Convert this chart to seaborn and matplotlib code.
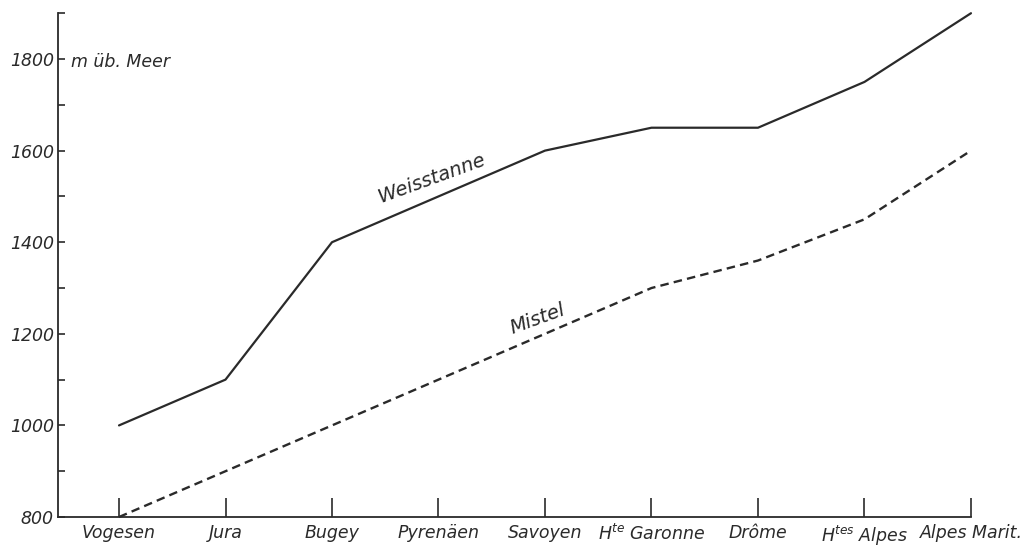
import numpy as np
import pandas as pd
import seaborn as sns
import matplotlib.pyplot as plt
from matplotlib.ticker import MultipleLocator

# data (metres above sea level)
regions = ['Vogesen', 'Jura', 'Bugey', 'Pyrenäen', 'Savoyen',
           r'H$^{te}$ Garonne', 'Drôme', r'H$^{tes}$ Alpes', 'Alpes Marit.']
weisstanne = [1000, 1100, 1400, 1500, 1600, 1650, 1650, 1750, 1900]
mistel = [800, 900, 1000, 1100, 1200, 1300, 1360, 1450, 1600]

sns.set_style('ticks')
plt.rcParams['font.family'] = ['DejaVu Sans']
plt.rcParams['font.style'] = 'italic'
plt.rcParams['mathtext.default'] = 'it'
plt.rcParams['mathtext.fontset'] = 'dejavusans'

df = pd.DataFrame({'pos': np.arange(len(regions)),
                   'Weisstanne': weisstanne,
                   'Mistel': mistel})

fig = plt.figure(figsize=(10.3, 5.51), dpi=100)
ax = fig.add_axes([0.0563, 0.0617, 0.8864, 0.9143])

ink = '#2a2a2a'
sns.lineplot(data=df, x='pos', y='Weisstanne', ax=ax, color=ink, lw=1.6,
             clip_on=False)
sns.lineplot(data=df, x='pos', y='Mistel', ax=ax, color=ink, lw=1.7,
             linestyle=(0, (3.6, 2.2)), clip_on=False)

ax.set_xlim(-0.573, len(regions) - 1)
ax.set_ylim(800, 1900)
ax.set_xticks(df['pos'])
ax.set_xticklabels(regions, fontsize=12.5, style='italic')
ax.yaxis.set_major_locator(MultipleLocator(200))
ax.yaxis.set_minor_locator(MultipleLocator(100))
ax.set_yticks(np.arange(800, 1801, 200))
ax.set_yticklabels([str(v) for v in range(800, 1801, 200)], fontsize=12.5,
                   style='italic')
ax.set_xlabel('')
ax.set_ylabel('')

ax.tick_params(axis='x', direction='in', length=14, width=1.2, pad=5,
               colors=ink)
ax.tick_params(axis='y', which='both', direction='in', length=5, width=1.2,
               pad=3, colors=ink)
sns.despine(ax=ax)
for s in ['left', 'bottom']:
    ax.spines[s].set_linewidth(1.3)
    ax.spines[s].set_color(ink)

ax.text(-0.45, 1793, 'm üb. Meer', fontsize=12.5, style='italic',
        color=ink, ha='left', va='center')
ax.text(2.93, 1539, 'Weisstanne', fontsize=14, style='italic', color=ink,
        rotation=20, ha='center', va='center', rotation_mode='anchor')
ax.text(3.93, 1233, 'Mistel', fontsize=14, style='italic', color=ink,
        rotation=20, ha='center', va='center', rotation_mode='anchor')

fig.savefig('out.png', dpi=100)
